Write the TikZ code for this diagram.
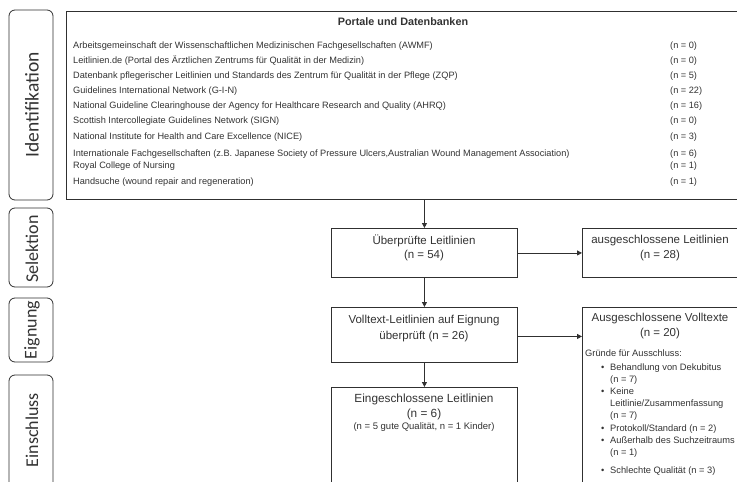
\documentclass[tikz,border=0pt]{standalone}
\usepackage{fontspec}
\setmainfont{Liberation Sans}
\newfontfamily\calib{Carlito}
\usetikzlibrary{arrows.meta}
\definecolor{ln}{HTML}{303030}
\definecolor{tx}{HTML}{333333}
\tikzset{
  side/.style={draw=ln, line width=0.8pt, rounded corners=6pt},
  box/.style={draw=ln, line width=0.9pt, anchor=north west, inner sep=0pt},
  sidetxt/.style={rotate=90, text=tx, font=\calib\fontsize{18}{20}\selectfont, inner sep=0pt},
  row/.style={anchor=west, text=tx, font=\fontsize{9.2}{11}\selectfont, inner sep=0pt, text height=6.6pt, text depth=2pt},
  mid/.style={text=tx, font=\fontsize{11.5}{13}\selectfont, inner sep=0pt},
  sm/.style={anchor=west, text=tx, font=\fontsize{9.3}{11}\selectfont, inner sep=0pt, text height=6.7pt, text depth=2pt},
  arr/.style={draw=ln, line width=0.9pt, -{Triangle[length=5pt,width=5pt]}}
}
\begin{document}
\begin{tikzpicture}[x=1pt, y=-1pt]
\useasboundingbox (0,0) rectangle (737,482);
\clip (0,0) rectangle (737,482);
\fill[white] (0,0) rectangle (737,482);
% side labels
\node[side, minimum width=44pt, minimum height=190pt] (s1) at (31,105) {};
\node[side, minimum width=44pt, minimum height=79pt] (s2) at (31,247.5) {};
\node[side, minimum width=44pt, minimum height=64pt] (s3) at (31,330) {};
\node[side, minimum width=44pt, minimum height=125pt] (s4) at (31,437.5) {};
\node[sidetxt, font=\calib\fontsize{19.5}{21}\selectfont] (t1) at (32,105) {Identifikation};
\node[sidetxt] (t2) at (32,249) {Selektion};
\node[sidetxt] (t3) at (32,330) {Eignung};
\node[sidetxt] (t4) at (32,430) {Einschluss};
% top box
\node[box, minimum width=680pt, minimum height=188pt] (top) at (66,11) {};
\node[text=tx, font=\bfseries\fontsize{10.8}{12}\selectfont, inner sep=0pt] (title) at (403,22) {Portale und Datenbanken};
\foreach \y/\t/\n [count=\i] in {
 46/{Arbeitsgemeinschaft der Wissenschaftlichen Medizinischen Fachgesellschaften (AWMF)}/0,
 61/{Leitlinien.de  (Portal des Ärztlichen Zentrums für Qualität in der Medizin)}/0,
 76/{Datenbank  pflegerischer Leitlinien und Standards des Zentrum für Qualität in der Pflege  (ZQP)}/5,
 91/{Guidelines  International Network (G-I-N)}/22,
 106/{National Guideline  Clearinghouse der Agency for Healthcare Research and Quality  (AHRQ)}/16,
 121/{Scottish Intercollegiate  Guidelines  Network (SIGN)}/0,
 137/{National Institute  for Health and Care Excellence (NICE)}/3,
 154/{Internationale  Fachgesellschaften (z.B. Japanese Society of Pressure Ulcers,Australian Wound Management  Association)}/6,
 166/{Royal College  of Nursing}/1,
 182/{Handsuche (wound repair and regeneration)}/1}{
  \node[row] (r\i) at (73,\y) {\t};
  \node[row] (n\i) at (670,\y) {(n = \n)};
}
% middle column
\node[box, minimum width=186pt, minimum height=49pt] (b1) at (331,228) {};
\node[mid] (b1a) at (424,241) {Überprüfte  Leitlinien};
\node[mid] (b1b) at (424,256) {(n = 54)};
\node[box, minimum width=170pt, minimum height=49pt] (a1) at (582,228) {};
\node[mid] (a1a) at (660,241) {ausgeschlossene Leitlinien};
\node[mid] (a1b) at (660,256) {(n = 28)};
\node[box, minimum width=186pt, minimum height=55pt] (b2) at (331,307) {};
\node[mid] (b2a) at (424,321) {Volltext-Leitlinien auf Eignung};
\node[mid] (b2b) at (424,337) {überprüft  (n = 26)};
\node[box, minimum width=170pt, minimum height=200pt] (a2) at (582,307) {};
\node[mid] (a2a) at (660,319) {Ausgeschlossene Volltexte};
\node[mid] (a2b) at (660,334) {(n = 20)};
\node[sm] (g0) at (585,354) {Gründe für Ausschluss:};
\foreach \y/\t [count=\i] in {368/{Behandlung von Dekubitus}, 380/{(n = 7)}, 392/{Keine}, 404/{Leitlinie/Zusammenfassung}, 416/{(n = 7)}, 429/{Protokoll/Standard  (n = 2)}, 441/{Außerhalb des Suchzeitraums}, 453/{(n = 1)}, 471/{Schlechte Qualität  (n = 3)}}{
  \node[sm] (g\i) at (610,\y) {\t};
}
\foreach \y [count=\i] in {368,392,429,441,471}{
  \node[sm] (bu\i) at (601,\y) {•};
}
\node[box, minimum width=186pt, minimum height=120pt] (b3) at (331,387) {};
\node[text=tx, font=\fontsize{11.8}{13}\selectfont, inner sep=0pt] (b3a) at (424,399) {Eingeschlossene Leitlinien};
\node[text=tx, font=\fontsize{11.8}{13}\selectfont, inner sep=0pt] (b3b) at (424,414) {(n = 6)};
\node[text=tx, font=\fontsize{9.5}{11}\selectfont, inner sep=0pt] (b3c) at (424,427) {(n = 5 gute Qualität,  n = 1 Kinder)};
% connectors
\draw[arr] (b1.north |- top.south) -- (b1.north);
\draw[arr] (b1.east) -- (b1.east -| a1.west);
\draw[arr] (b1.south) -- (b2.north);
\draw[arr] ([yshift=-1.5pt]b2.east) -- ([yshift=-1.5pt]b2.east -| a2.west);
\draw[arr] (b2.south) -- (b3.north);
\end{tikzpicture}
\end{document}
